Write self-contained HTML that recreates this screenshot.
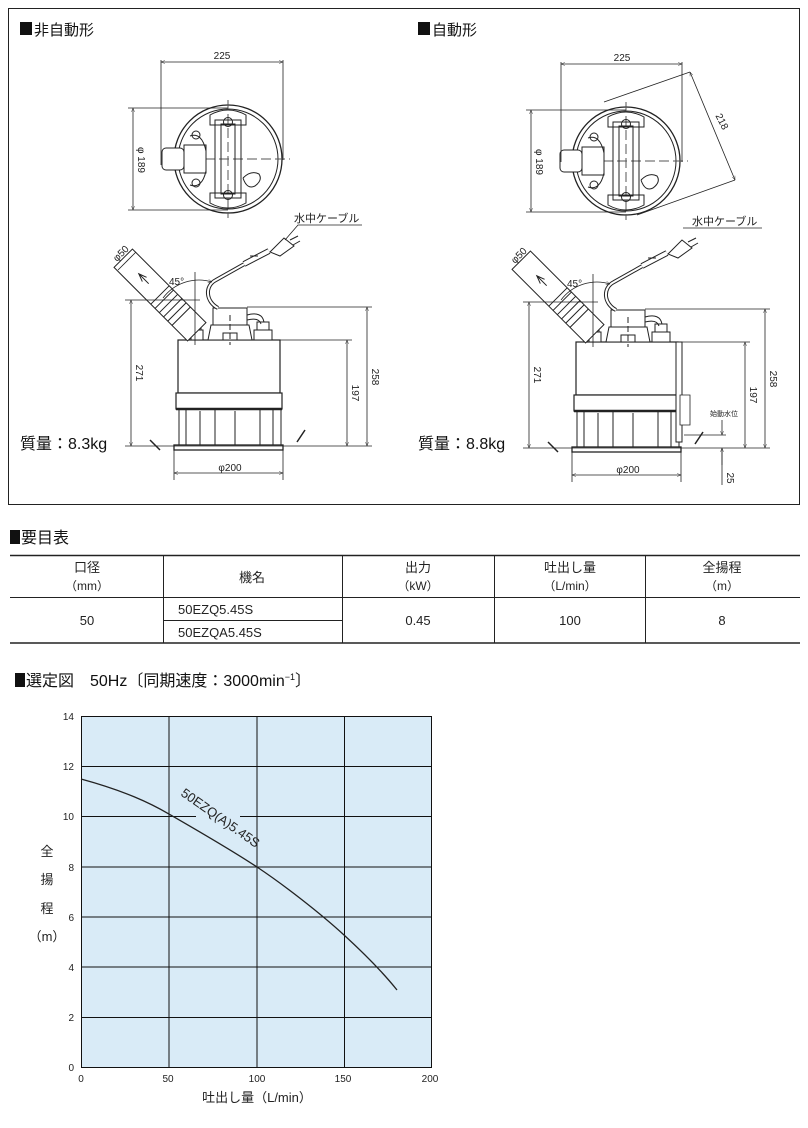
<!DOCTYPE html>
<html><head><meta charset="utf-8"><style>
body{margin:0;background:#fff;width:808px;height:1128px;overflow:hidden;font-family:"Liberation Sans","Noto Sans CJK JP",sans-serif;}
svg{position:absolute;left:0;top:0}
</style></head><body>
<svg width="808" height="1128" viewBox="0 0 808 1128" font-family="Liberation Sans, Noto Sans CJK JP, sans-serif">
<defs>
<marker id="a" viewBox="0 0 10 10" refX="10" refY="5" markerWidth="7" markerHeight="5" orient="auto-start-reverse"><path d="M0,1L10,5L0,9" fill="none" stroke="#222" stroke-width="1"/></marker>
<g id="pump" stroke="#222" fill="none" stroke-width="1">
 <circle cx="228" cy="159" r="54" stroke-width="1.3"/>
 <circle cx="228" cy="159" r="50"/>
 <path d="M163,159H290" stroke-dasharray="10,4" stroke="#555"/>
 <path d="M228,100V218" stroke-dasharray="10,4" stroke="#555"/>
 <rect x="162" y="148" width="22" height="22" rx="4" fill="#fff"/>
 <path d="M184,145h22v28h-22z" fill="#fff"/>
 <path d="M190,136q12,-4 16,15v20q-4,18 -16,14" />
 <circle cx="196" cy="135" r="4"/><circle cx="196" cy="183" r="4"/>
 <path d="M215,120h26v78h-26z"/><path d="M221,124h14v70h-14z"/>
 <path d="M210,115q18,-10 36,0v10h-36z"/><path d="M210,193h36v10q-18,10 -36,0z"/>
 <circle cx="228" cy="122" r="4.5"/><circle cx="228" cy="195" r="4.5"/>
 <path d="M243,178q8,-8 16,-4q4,6 -4,12q-8,4 -12,-8" />
 <rect x="178" y="340" width="102" height="53" fill="#fff" stroke-width="1.2"/>
 <rect x="176" y="393" width="106" height="16" fill="#fff" stroke-width="1.2"/>
 <path d="M176,409h106" stroke-width="2.5"/>
 <path d="M179,409v36M186,409v36M200,411v34M215,409v36M235,411v34M260,409v36M273,409v36M281,409v36"/>
 <rect x="174" y="445" width="109" height="5" fill="#fff" stroke-width="1.3"/>
 <rect x="213" y="308" width="34" height="20" fill="#fff"/>
 <path d="M208,340l3,-15h38l3,15z" fill="#fff"/>
 <path d="M230,315v30" stroke-dasharray="6,3"/>
 <path d="M223,333h14v7h-14z"/>
 <path d="M254,330h18v10h-18zM257,322h12v8h-12z" fill="#fff"/>
 <path d="M247,315q15,-4 17,7"/><path d="M247,320q12,-3 14,4"/>
 <path d="M191,330h12v10h-12zM193,323h8v7h-8z" fill="#fff"/>
 <g transform="translate(160,295) rotate(45)">
  <rect x="-52" y="-13" width="104" height="26" fill="#fff"/>
  <path d="M0,-13v26M6,-13v26M12,-13v26M18,-13v26M24,-13v26M30,-13v26"/>
  <path d="M-30,0h14M-22,-3l-8,3l8,3"/>
 </g>
 <path d="M218,308c-12,-6 -14,-22 -2,-28l32,-18" stroke-width="4"/>
 <path d="M218,308c-12,-6 -14,-22 -2,-28l32,-18" stroke="#fff" stroke-width="2"/>
 <path d="M244,264l25,-13" stroke-width="6"/><path d="M244,264l25,-13" stroke="#fff" stroke-width="4"/>
 <path d="M270,252l14,-14l10,8l-14,10z" fill="#fff"/>
 <path d="M290,240l8,-4M293,245l7,-4"/>
 <path d="M250,256h8"/>
 <path d="M150,440l10,10M305,430l-8,12" stroke-width="1.5"/>
</g>
</defs>
<rect x="8.5" y="8.5" width="791" height="496" fill="none" stroke="#222" stroke-width="1"/>
<rect x="20" y="22" width="12" height="13" fill="#111"/>
<text x="34" y="35" font-size="15" fill="#111">非自動形</text>
<rect x="418" y="22" width="12" height="13" fill="#111"/>
<text x="432" y="35" font-size="15" fill="#111">自動形</text>
<use href="#pump"/>
<use href="#pump" transform="translate(398,2)"/>
<g stroke="#222" fill="none" stroke-width="0.8">
 <path d="M161,60v105M283,60v100" /><path d="M161,62H283" marker-start="url(#a)" marker-end="url(#a)"/>
 <path d="M128,108H228M128,210H228"/><path d="M133,108V210" marker-start="url(#a)" marker-end="url(#a)"/>
 <path d="M125,300H200"/><path d="M131,300V446" marker-start="url(#a)" marker-end="url(#a)"/>
 <path d="M125,446H372"/><path d="M280,340H352M247,307H372"/>
 <path d="M347,340V446" marker-start="url(#a)" marker-end="url(#a)"/>
 <path d="M367,307V446" marker-start="url(#a)" marker-end="url(#a)"/>
 <path d="M174,450V480M283,450V480"/><path d="M174,473H283" marker-start="url(#a)" marker-end="url(#a)"/>
 <path d="M195,272V345"/><path d="M163,298A45,45 0 0 1 212,282" marker-end="url(#a)"/>
 <path d="M118,270L136,252"/>
 <path d="M285,240L298,225H362"/>
 <path d="M561,62v100M682,62v100"/><path d="M561,64H682" marker-start="url(#a)" marker-end="url(#a)"/>
 <path d="M526,110H626M526,212H626"/><path d="M531,110V212" marker-start="url(#a)" marker-end="url(#a)"/>
 <path d="M604,102L690,72M637,215L735,180"/><path d="M690,72L735,180" marker-start="url(#a)" marker-end="url(#a)"/>
 <path d="M523,302H598"/><path d="M529,302V448" marker-start="url(#a)" marker-end="url(#a)"/>
 <path d="M523,448H770"/><path d="M678,342H750M645,309H770"/>
 <path d="M745,342V448" marker-start="url(#a)" marker-end="url(#a)"/>
 <path d="M765,309V448" marker-start="url(#a)" marker-end="url(#a)"/>
 <path d="M572,452V482M681,452V482"/><path d="M572,475H681" marker-start="url(#a)" marker-end="url(#a)"/>
 <path d="M593,274V347"/><path d="M561,300A45,45 0 0 1 610,284" marker-end="url(#a)"/>
 <path d="M683,228L696,228H762"/>
 <path d="M684,435H726"/><path d="M722,420V435" marker-end="url(#a)"/><path d="M722,448V485"/><path d="M722,465V448" marker-end="url(#a)"/>
 <path d="M676,342h6v100h-6z" fill="#fff" stroke-width="1"/><path d="M680,395h10v30h-10z" fill="#fff"/>
</g>
<g font-size="10" fill="#222">
 <text x="222" y="59" text-anchor="middle">225</text>
 <text x="622" y="61" text-anchor="middle">225</text>
 <text transform="translate(138,160) rotate(90)" text-anchor="middle">φ 189</text>
 <text transform="translate(536,162) rotate(90)" text-anchor="middle">φ 189</text>
 <text transform="translate(136,373) rotate(90)" text-anchor="middle">271</text>
 <text transform="translate(534,375) rotate(90)" text-anchor="middle">271</text>
 <text transform="translate(352,393) rotate(90)" text-anchor="middle">197</text>
 <text transform="translate(750,395) rotate(90)" text-anchor="middle">197</text>
 <text transform="translate(372,377) rotate(90)" text-anchor="middle">258</text>
 <text transform="translate(770,379) rotate(90)" text-anchor="middle">258</text>
 <text transform="translate(727,478) rotate(90)" text-anchor="middle">25</text>
 <text transform="translate(719,123) rotate(63)" text-anchor="middle">218</text>
 <text x="230" y="471" text-anchor="middle">φ200</text>
 <text x="628" y="473" text-anchor="middle">φ200</text>
 <text transform="translate(117,262) rotate(-45)">φ50</text>
 <text transform="translate(515,264) rotate(-45)">φ50</text>
 <text x="169" y="285">45°</text><text x="567" y="287">45°</text>
 <text x="294" y="222" font-size="11">水中ケーブル</text>
 <text x="692" y="225" font-size="11">水中ケーブル</text>
 <text x="710" y="416" font-size="7">始動水位</text>
</g>
<text x="20" y="449" font-size="16" fill="#111">質量：8.3kg</text>
<text x="418" y="449" font-size="16" fill="#111">質量：8.8kg</text>

<rect x="10" y="530" width="10" height="14" fill="#111"/>
<text x="21" y="543" font-size="16" fill="#111">要目表</text>
<g stroke="#222" fill="none">
 <path d="M10,555.5H800" stroke-width="1.5"/><path d="M10,597.5H800" stroke-width="1"/>
 <path d="M10,643H800" stroke-width="1.5"/><path d="M163,620.5H342" stroke-width="1"/>
 <path d="M163.5,555V643M342.5,555V643M494.5,555V643M645.5,555V643" stroke-width="1"/>
</g>
<g font-size="13" fill="#222" text-anchor="middle">
 <text x="87" y="572">口径</text><text x="87" y="590" font-size="12">（mm）</text>
 <text x="252" y="582">機名</text>
 <text x="418" y="572">出力</text><text x="418" y="590" font-size="12">（kW）</text>
 <text x="570" y="572">吐出し量</text><text x="570" y="590" font-size="12">（L/min）</text>
 <text x="722" y="572">全揚程</text><text x="722" y="590" font-size="12">（m）</text>
 <text x="87" y="625">50</text><text x="418" y="625">0.45</text><text x="570" y="625">100</text><text x="722" y="625">8</text>
 <text x="178" y="614" text-anchor="start">50EZQ5.45S</text>
 <text x="178" y="637" text-anchor="start">50EZQA5.45S</text>
</g>
<rect x="15" y="673" width="10" height="14" fill="#111"/>
<text x="26" y="686" font-size="16" fill="#111">選定図　50Hz〔同期速度：3000min<tspan font-size="9" dy="-6">−1</tspan><tspan dy="6">〕</tspan></text>

<rect x="81" y="716" width="351" height="352" fill="#d9ebf7"/>
<g stroke="#111" stroke-width="1">
 <path d="M81,716.5H432M81,766.5H432M81,816.5H432M81,867H432M81,917H432M81,967H432M81,1017.5H432M81,1067.5H432"/>
 <path d="M81.5,716V1068M169,716V1068M257,716V1068M344.5,716V1068M431.5,716V1068"/>
</g>
<path d="M81,779C125,791 150,803 169,814S230,849 257,867S320,913 344,935S385,975 397,990" fill="none" stroke="#222" stroke-width="1.3"/>
<rect x="196" y="815" width="44" height="4" fill="#d9ebf7"/>
<text transform="translate(180,795) rotate(35)" font-size="13" fill="#222">50EZQ(A)5.45S</text>
<g font-size="10" fill="#222" text-anchor="end">
 <text x="74" y="720">14</text><text x="74" y="770">12</text><text x="74" y="820">10</text><text x="74" y="871">8</text>
 <text x="74" y="921">6</text><text x="74" y="971">4</text><text x="74" y="1021">2</text><text x="74" y="1071">0</text>
</g>
<g font-size="10" fill="#222" text-anchor="middle">
 <text x="81" y="1082">0</text><text x="168" y="1082">50</text><text x="257" y="1082">100</text><text x="343" y="1082">150</text><text x="430" y="1082">200</text>
</g>
<g font-size="13" fill="#222" text-anchor="middle">
 <text x="47" y="856">全</text><text x="47" y="884">揚</text><text x="47" y="913">程</text><text x="47" y="941">（m）</text>
 <text x="257" y="1102">吐出し量（L/min）</text>
</g>
</svg>
</body></html>
